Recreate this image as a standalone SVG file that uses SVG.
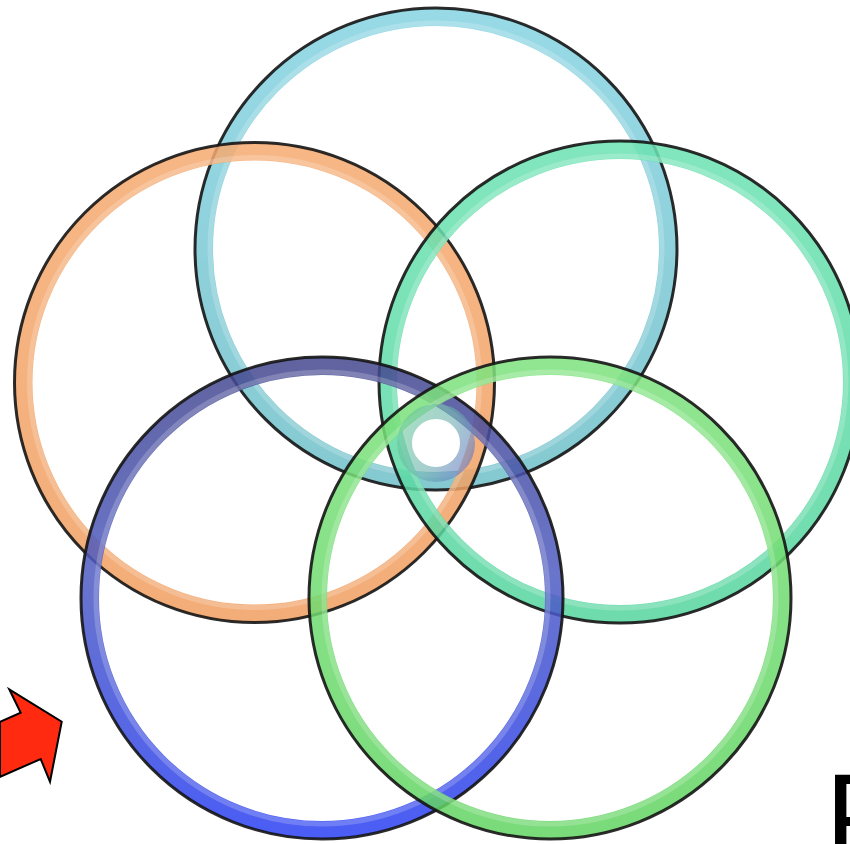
<svg xmlns="http://www.w3.org/2000/svg" width="850" height="844" viewBox="0 0 850 844">
  <defs>
    <linearGradient id="gCyan" gradientUnits="userSpaceOnUse" x1="436" y1="7" x2="436" y2="491">
      <stop offset="0" stop-color="#86d3e2"/>
      <stop offset="1" stop-color="#6fbfc8"/>
    </linearGradient>
    <linearGradient id="gOrange" gradientUnits="userSpaceOnUse" x1="254" y1="141" x2="254" y2="624">
      <stop offset="0" stop-color="#f5aa70"/>
      <stop offset="1" stop-color="#f09e60"/>
    </linearGradient>
    <linearGradient id="gTeal" gradientUnits="userSpaceOnUse" x1="620" y1="140" x2="620" y2="624">
      <stop offset="0" stop-color="#6ce2b2"/>
      <stop offset="1" stop-color="#55d59e"/>
    </linearGradient>
    <linearGradient id="gBlue" gradientUnits="userSpaceOnUse" x1="322" y1="356" x2="322" y2="840">
      <stop offset="0" stop-color="#44478c"/>
      <stop offset="0.45" stop-color="#4f5cc2"/>
      <stop offset="1" stop-color="#2a40f4"/>
    </linearGradient>
    <linearGradient id="gGreen" gradientUnits="userSpaceOnUse" x1="550" y1="356" x2="550" y2="840">
      <stop offset="0" stop-color="#7ee27e"/>
      <stop offset="1" stop-color="#62d462"/>
    </linearGradient>
    <linearGradient id="gCore" gradientUnits="userSpaceOnUse" x1="400" y1="420" x2="475" y2="460">
      <stop offset="0" stop-color="#6acb98"/>
      <stop offset="0.55" stop-color="#6aaeae"/>
      <stop offset="1" stop-color="#6470c4"/>
    </linearGradient>
  </defs>
  <style>
    .band { fill: none; stroke-width: 18; opacity: 0.85; }
    .shine { fill: none; stroke: #ffffff; stroke-width: 5; opacity: 0.2; }
    .edge { fill: none; stroke: #141414; stroke-width: 3; opacity: 0.9; }
    .core { fill: none; stroke: url(#gCore); stroke-width: 15; opacity: 0.6; }
    .arrow { fill: #ff2a10; stroke: #000000; stroke-width: 2; stroke-linejoin: miter; }
    .label { font-family: "Liberation Sans", Arial, sans-serif; font-size: 122px; fill: #000000; }
  </style>
  <rect width="850" height="844" fill="#ffffff"/>

  <g id="ring-cyan">
    <circle class="band" cx="436" cy="249" r="232" stroke="url(#gCyan)"/>
    <circle class="shine" cx="436" cy="249" r="226"/>
    <circle class="edge" cx="436" cy="249" r="241"/>
  </g>
  <g id="ring-orange">
    <circle class="band" cx="254.5" cy="382.5" r="231" stroke="url(#gOrange)"/>
    <circle class="shine" cx="254.5" cy="382.5" r="225"/>
    <circle class="edge" cx="254.5" cy="382.5" r="240"/>
  </g>
  <g id="ring-teal">
    <circle class="band" cx="620" cy="382" r="232" stroke="url(#gTeal)"/>
    <circle class="shine" cx="620" cy="382" r="226"/>
    <circle class="edge" cx="620" cy="382" r="241"/>
  </g>
  <g id="ring-blue">
    <circle class="band" cx="322" cy="598" r="232" stroke="url(#gBlue)"/>
    <circle class="shine" cx="322" cy="598" r="226"/>
    <circle class="edge" cx="322" cy="598" r="241"/>
  </g>
  <g id="ring-green">
    <circle class="band" cx="550" cy="598" r="232" stroke="url(#gGreen)"/>
    <circle class="shine" cx="550" cy="598" r="226"/>
    <circle class="edge" cx="550" cy="598" r="241"/>
  </g>

  <g id="center-overlap">
    <circle class="core" cx="436" cy="443" r="31.5"/>
  </g>

  <g id="connectors"></g>

  <g id="arrow">
    <polygon class="arrow" points="0,721.8 20.7,712.7 9.3,689.3 61.7,721.7 50,781.7 40.7,759 0,776.9"/>
  </g>

  <g id="label">
    <text class="label" x="825" y="859">P</text>
  </g>
</svg>
